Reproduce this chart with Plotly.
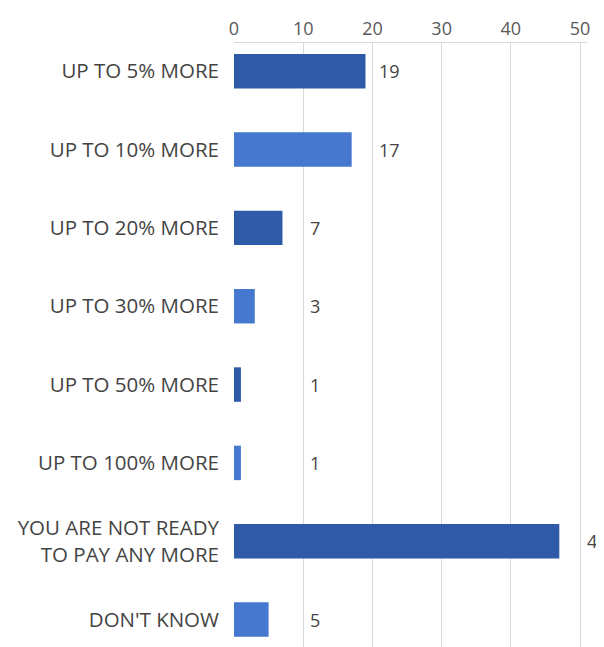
import math
import plotly.graph_objects as go

categories = ["UP TO 5% MORE", "UP TO 10% MORE", "UP TO 20% MORE", "UP TO 30% MORE",
              "UP TO 50% MORE", "UP TO 100% MORE", "YOU ARE NOT READY<br>TO PAY ANY MORE",
              "DON'T KNOW"]
values = [19, 17, 7, 3, 1, 1, 47, 5]
tick_vals = [0, 10, 20, 30, 40, 50]

DARK = "#2E5AA8"
LIGHT = "#4678CF"
colors = [DARK if i % 2 == 0 else LIGHT for i in range(len(values))]
FONT = "Open Sans"
TXT = "#444444"

fig = go.Figure(go.Bar(
    x=values, y=categories, orientation="h",
    marker=dict(color=colors, line=dict(width=0)),
    width=0.44, hoverinfo="x+y",
))

for c, v in zip(categories, values):
    label_x = math.ceil((v + 1) / 10) * 10
    fig.add_annotation(x=label_x, y=c, xref="x", yref="y", text=str(v),
                       showarrow=False, xanchor="left", xshift=5,
                       font=dict(family=FONT, size=18, color=TXT))

# page body has an 8px margin, so the figure is sized/offset to compensate
fig.update_layout(
    width=596, height=639,
    margin=dict(l=226, r=17, t=35, b=0, autoexpand=False),
    paper_bgcolor="white", plot_bgcolor="white",
    showlegend=False,
    font=dict(family=FONT, size=20, color=TXT),
)
fig.update_xaxes(
    side="top", range=[0, 51], tickvals=tick_vals,
    showgrid=True, gridcolor="#D9D9D9", gridwidth=1,
    showline=True, linecolor="#D9D9D9", linewidth=1,
    zeroline=False, ticks="", ticklen=0,
    tickfont=dict(family=FONT, size=18, color="#595959"),
    automargin=False,
)
fig.update_yaxes(
    range=[7.35, -0.36], showgrid=False, zeroline=False,
    showline=False, ticks="", ticklabelstandoff=14,
    tickfont=dict(family=FONT, size=20.5, color=TXT),
    automargin=False,
)

fig.write_html("out.html")
